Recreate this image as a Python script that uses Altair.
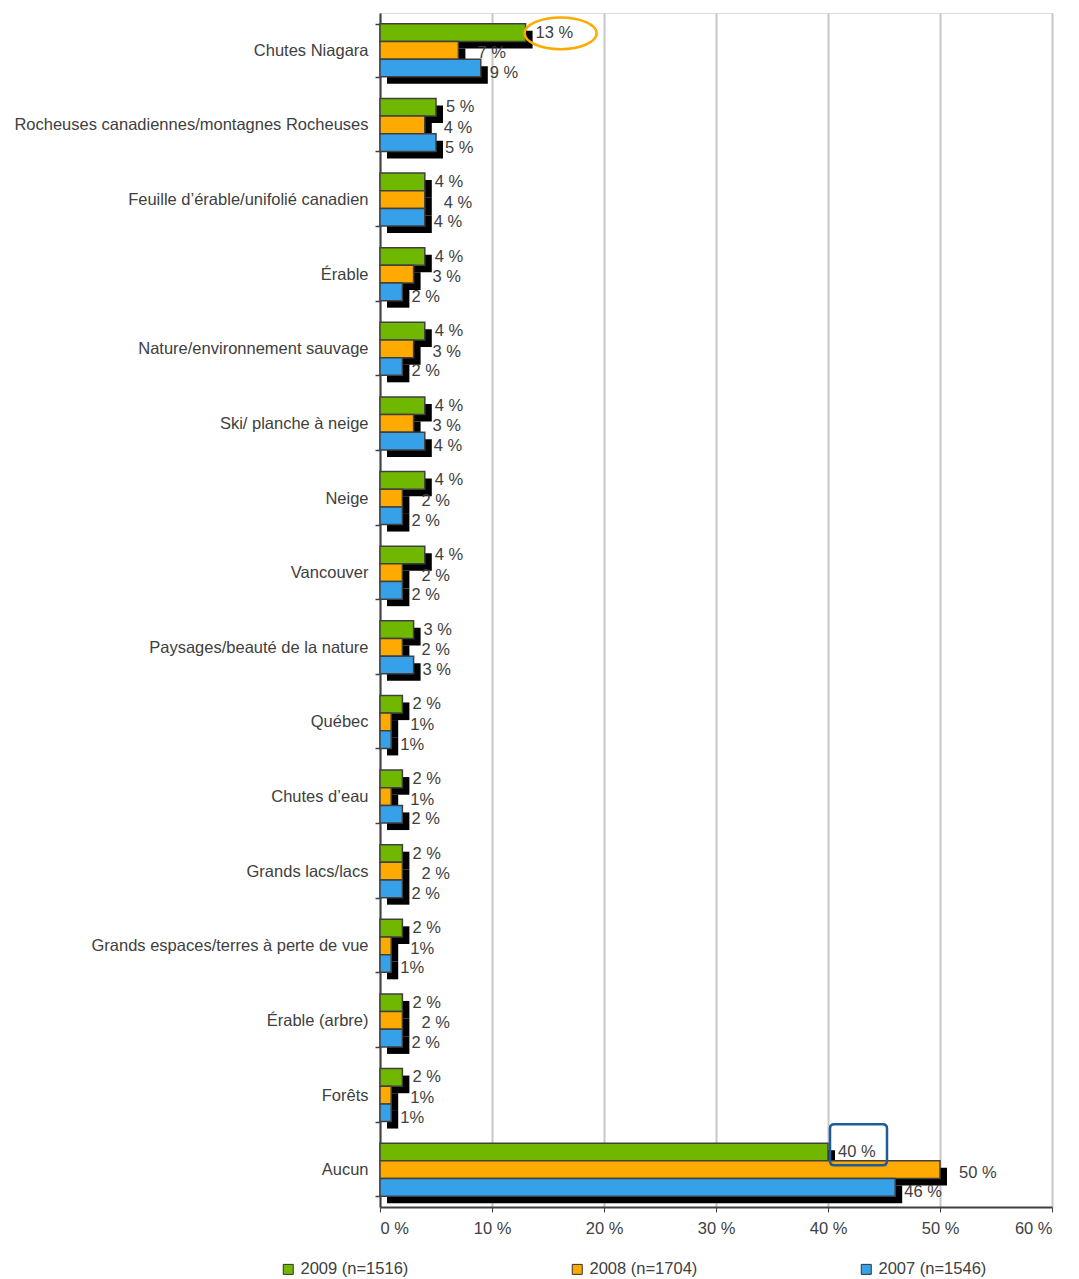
import altair as alt
import pandas as pd

categories = [
    "Chutes Niagara",
    "Rocheuses canadiennes/montagnes Rocheuses",
    "Feuille d’érable/unifolié canadien",
    "Érable",
    "Nature/environnement sauvage",
    "Ski/ planche à neige",
    "Neige",
    "Vancouver",
    "Paysages/beauté de la nature",
    "Québec",
    "Chutes d’eau",
    "Grands lacs/lacs",
    "Grands espaces/terres à perte de vue",
    "Érable (arbre)",
    "Forêts",
    "Aucun",
]
v2009 = [13, 5, 4, 4, 4, 4, 4, 4, 3, 2, 2, 2, 2, 2, 2, 40]
v2008 = [7, 4, 4, 3, 3, 3, 2, 2, 2, 1, 1, 2, 1, 2, 1, 50]
v2007 = [9, 5, 4, 2, 2, 4, 2, 2, 3, 1, 2, 2, 1, 2, 1, 46]
series = ["2009 (n=1516)", "2008 (n=1704)", "2007 (n=1546)"]
colors = ["#70B800", "#FFAA00", "#36A0E8"]
x_ticks = [0, 10, 20, 30, 40, 50, 60]

rows = []
for s, vals in zip(series, [v2009, v2008, v2007]):
    for c, v in zip(categories, vals):
        rows.append({"cat": c, "series": s, "v": v,
                     "label": "1%" if v == 1 else f"{v} %"})
df = pd.DataFrame(rows)

FONT = "Liberation Sans"
TXT = "#404040"
FS = 16.5

W, H = 672, 1194
P_IN, P_OUT = 0.29, 0.145
BW = H / len(categories) * (1 - P_IN)
SUB = BW / 3
SH = 7  # shadow offset in px

y_enc = alt.Y(
    "cat:N", sort=categories,
    scale=alt.Scale(paddingInner=P_IN, paddingOuter=P_OUT),
    axis=alt.Axis(title=None, tickBand="extent", tickSize=5, grid=False,
                  domainColor=TXT, domainWidth=2, tickColor=TXT, tickWidth=1.5,
                  labelPadding=7, minExtent=367, maxExtent=367,
                  labelFontSize=FS, labelColor=TXT, labelFont=FONT, labelLimit=400),
)
yoff_enc = alt.YOffset("series:N", sort=series,
                       scale=alt.Scale(domain=series, range=[0, BW],
                                       paddingInner=0, paddingOuter=0))
yoff_shadow = alt.YOffset("series:N", sort=series,
                          scale=alt.Scale(domain=series, range=[SH, SH + BW],
                                          paddingInner=0, paddingOuter=0))
x_enc = alt.X(
    "v:Q", scale=alt.Scale(domain=[0, 60], nice=False),
    axis=alt.Axis(title=None, values=x_ticks, labelExpr="datum.value + ' %'",
                  grid=True, gridColor="#C8C8C8", gridWidth=2,
                  domainColor=TXT, domainWidth=2, tickColor=TXT, tickSize=5,
                  labelPadding=8, labelFontSize=FS, labelColor=TXT, labelFont=FONT),
)

base = alt.Chart(df)

shadow = base.mark_bar(color="black", xOffset=SH, x2Offset=SH).encode(
    x=x_enc, y=y_enc, yOffset=yoff_shadow,
)

bars = base.mark_bar(stroke="#404040", strokeWidth=1.5).encode(
    x=x_enc, y=y_enc, yOffset=yoff_enc,
    color=alt.Color("series:N", sort=series,
                    scale=alt.Scale(domain=series, range=colors),
                    legend=alt.Legend(
                        title=None, orient="none", legendX=-100, legendY=1248,
                        direction="horizontal", columns=3, columnPadding=160,
                        gridAlign="all", symbolType="square", symbolSize=100,
                        symbolStrokeColor="#333333", symbolStrokeWidth=1,
                        labelFontSize=FS, labelColor=TXT, labelFont=FONT,
                        labelOffset=4)),
)

# labels sit at the category band centre, shifted to each series' sub-band
text_layers = []
for i, (s, dx, dy) in enumerate(zip(series, [10, 19, 9], [0, 3, 5])):
    text_layers.append(
        base.transform_filter(alt.datum.series == s)
        .mark_text(align="left", baseline="middle", dx=dx, dy=(i - 1) * SUB + dy,
                   fontSize=FS, color=TXT, font=FONT)
        .encode(x=x_enc, y=y_enc, text="label:N")
    )

ellipse_path = ("M-1,0 C-1,-0.243 -0.552,-0.44 0,-0.44 C0.552,-0.44 1,-0.243 1,0 "
                "C1,0.243 0.552,0.44 0,0.44 C-0.552,0.44 -1,0.243 -1,0 Z")
rrect_path = ("M-0.85,-0.72 L0.85,-0.72 Q1,-0.72 1,-0.57 L1,0.57 Q1,0.72 0.85,0.72 "
              "L-0.85,0.72 Q-1,0.72 -1,0.57 L-1,-0.57 Q-1,-0.72 -0.85,-0.72 Z")

ann1 = alt.Chart(pd.DataFrame({"cat": [categories[0]], "v": [v2009[0]]})).mark_point(
    shape=ellipse_path, size=72 * 72, filled=False, stroke="#FFAA00",
    strokeWidth=2.5, opacity=1, xOffset=35, yOffset=-17,
).encode(x=x_enc, y=y_enc)

ann2 = alt.Chart(pd.DataFrame({"cat": [categories[-1]], "v": [v2009[-1]]})).mark_point(
    shape=rrect_path, size=57 * 57, filled=False, stroke="#1F5C99",
    strokeWidth=2.5, opacity=1, xOffset=30.5, yOffset=-25,
).encode(x=x_enc, y=y_enc)

chart = alt.layer(shadow, bars, *text_layers, ann1, ann2).resolve_scale(
    yOffset="independent"
).properties(
    width=W, height=H,
    autosize=alt.AutoSizeParams(type="none"),
    padding={"left": 372, "top": 5, "right": 18, "bottom": 90},
).configure_view(stroke="#C8C8C8", strokeWidth=2).configure(font=FONT)

chart.save("out.html", embed_options={"renderer": "svg", "actions": False})
